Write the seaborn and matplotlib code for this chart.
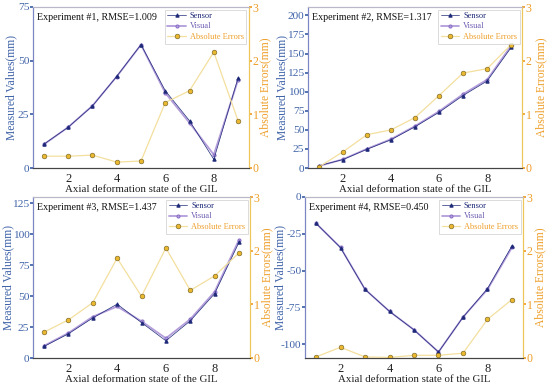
import numpy as np
import pandas as pd
import matplotlib
matplotlib.use("Agg")
import matplotlib.pyplot as plt
import seaborn as sns

sns.set_theme(style="white")
plt.rcParams['font.family'] = ['Liberation Serif', 'DejaVu Serif']
plt.rcParams['axes.unicode_minus'] = False

states = [1, 2, 3, 4, 5, 6, 7, 8, 9]

titles = ["Experiment #1, RMSE=1.009", "Experiment #2, RMSE=1.317",
          "Experiment #3, RMSE=1.437", "Experiment #4, RMSE=0.450"]

sensor1 = [11.1, 19.0, 28.9, 42.7, 57.5, 36.0, 22.0, 4.0, 42.0]
visual1 = [11.0, 19.0, 29.0, 42.6, 57.4, 35.0, 21.0, 6.2, 41.0]
error1 = [0.22, 0.22, 0.24, 0.11, 0.13, 1.22, 1.44, 2.16, 0.88]

sensor2 = [3.0, 11.0, 24.5, 37.0, 54.0, 73.0, 95.0, 114.0, 158.0]
visual2 = [2.5, 11.3, 25.1, 37.7, 54.9, 74.3, 96.8, 115.8, 160.3]
error2 = [0.02, 0.30, 0.62, 0.71, 0.94, 1.35, 1.77, 1.85, 2.30]

sensor3 = [9.3, 19.5, 32.3, 43.5, 28.6, 13.9, 30.0, 52.0, 93.5]
visual3 = [9.8, 20.2, 33.3, 41.6, 29.7, 15.9, 31.3, 53.5, 95.5]
error3 = [0.48, 0.71, 1.03, 1.86, 1.15, 2.05, 1.26, 1.53, 1.96]

sensor4 = [-17.9, -34.5, -62.8, -77.8, -90.4, -105.4, -81.8, -62.3, -33.2]
visual4 = [-17.9, -34.3, -62.8, -77.8, -90.3, -105.4, -81.7, -62.9, -34.3]
error4 = [0.02, 0.20, 0.02, 0.01, 0.05, 0.05, 0.09, 0.72, 1.09]

ylims = [(0, 75), (0, 211), (0, 130), (-109.5, 0)]
yticks = [[0, 25, 50, 75], [0, 25, 50, 75, 100, 125, 150, 175, 200],
          [0, 25, 50, 75, 100, 125], [-100, -75, -50, -25, 0]]

sensors = [sensor1, sensor2, sensor3, sensor4]
visuals = [visual1, visual2, visual3, visual4]
errors = [error1, error2, error3, error4]

C_SENSOR = "#1e2a78"
C_VISUAL = "#b39ddb"
C_ERRLINE = "#f3df9e"
C_ERRFACE = "#e9b730"
C_LEFT = "#3f63a8"
C_RIGHT = "#ee9f2a"

fig = plt.figure(figsize=(5.5, 3.9), dpi=100)
W, H = 550, 390
boxes = [(33, 7, 249, 168), (308, 7, 522, 168), (33, 197, 250, 358), (305, 197, 523, 358)]
ylab_x = [-0.072, -0.093, -0.088, -0.087]
rlab_x = [1.046, 1.062, 1.052, 1.05]

for i in range(4):
    x0, y0, x1, y1 = boxes[i]
    ax = fig.add_axes([x0 / W, 1 - y1 / H, (x1 - x0) / W, (y1 - y0) / H])
    df = pd.DataFrame({"state": states, "sensor": sensors[i], "visual": visuals[i], "error": errors[i]})
    sns.lineplot(data=df, x="state", y="visual", ax=ax, color=C_VISUAL, lw=1.3,
                 marker="o", markersize=2.2, markeredgecolor="#8a70c8", label="Visual", legend=False)
    sns.lineplot(data=df, x="state", y="sensor", ax=ax, color=C_SENSOR, lw=0.5,
                 marker="^", markersize=2.4, markeredgecolor=C_SENSOR, label="Sensor", legend=False)
    ax2 = ax.twinx()
    sns.lineplot(data=df, x="state", y="error", ax=ax2, color=C_ERRLINE, lw=0.9,
                 marker="o", markersize=3.4, markerfacecolor=C_ERRFACE, markeredgecolor="#6b5a20",
                 markeredgewidth=0.4, label="Absolute Errors", legend=False)
    ax.set_xlim(0.55, 9.45)
    ax.set_ylim(*ylims[i])
    ax.set_yticks(yticks[i])
    ax.set_xticks([2, 4, 6, 8])
    ax2.set_ylim(0, 3)
    ax2.set_yticks([0, 1, 2, 3])

    ax.set_xlabel("Axial deformation state of the GIL", fontsize=7.8, color="#222222", labelpad=0)
    ax.set_ylabel("Measured Values(mm)", fontsize=8.4, color=C_LEFT)
    ax2.set_ylabel("Absolute Errors(mm)", fontsize=8.4, color=C_RIGHT)
    ax.yaxis.set_label_coords(ylab_x[i], 0.5)
    ax2.yaxis.set_label_coords(rlab_x[i], 0.5)

    ax.tick_params(axis="x", labelsize=9, colors="#222222", direction="out", length=2.5, pad=1)
    ax.tick_params(axis="y", labelsize=8.2, colors=C_LEFT, direction="out", length=2, pad=0.6)
    ax2.tick_params(axis="y", labelsize=8.6, colors=C_RIGHT, direction="out", length=2, pad=0.8)

    for a in (ax, ax2):
        a.spines["top"].set_color("#b8b8c8")
        a.spines["bottom"].set_color("#444444")
        a.spines["left"].set_color("#7c86c4")
        a.spines["right"].set_color("#efc55a")
        for s in a.spines.values():
            s.set_linewidth(0.8)

    ax.text(0.02, 0.965, titles[i], transform=ax.transAxes, fontsize=7.2, va="top", ha="left",
            color="#111111")

    h1 = ax.get_lines()
    h2 = ax2.get_lines()
    handles = [h1[1], h1[0], h2[0]]
    labels = ["Sensor", "Visual", "Absolute Errors"]
    leg = ax2.legend(handles, labels, loc="upper right", fontsize=6, frameon=True,
                     fancybox=False, edgecolor="#cccccc", borderpad=0.3, labelspacing=0.3,
                     handlelength=2.2, handletextpad=0.5, borderaxespad=0.3,
                     labelcolor=[C_SENSOR, "#6f5fb3", C_RIGHT])
    leg.get_frame().set_linewidth(0.6)

fig.savefig("out.png", dpi=100)
